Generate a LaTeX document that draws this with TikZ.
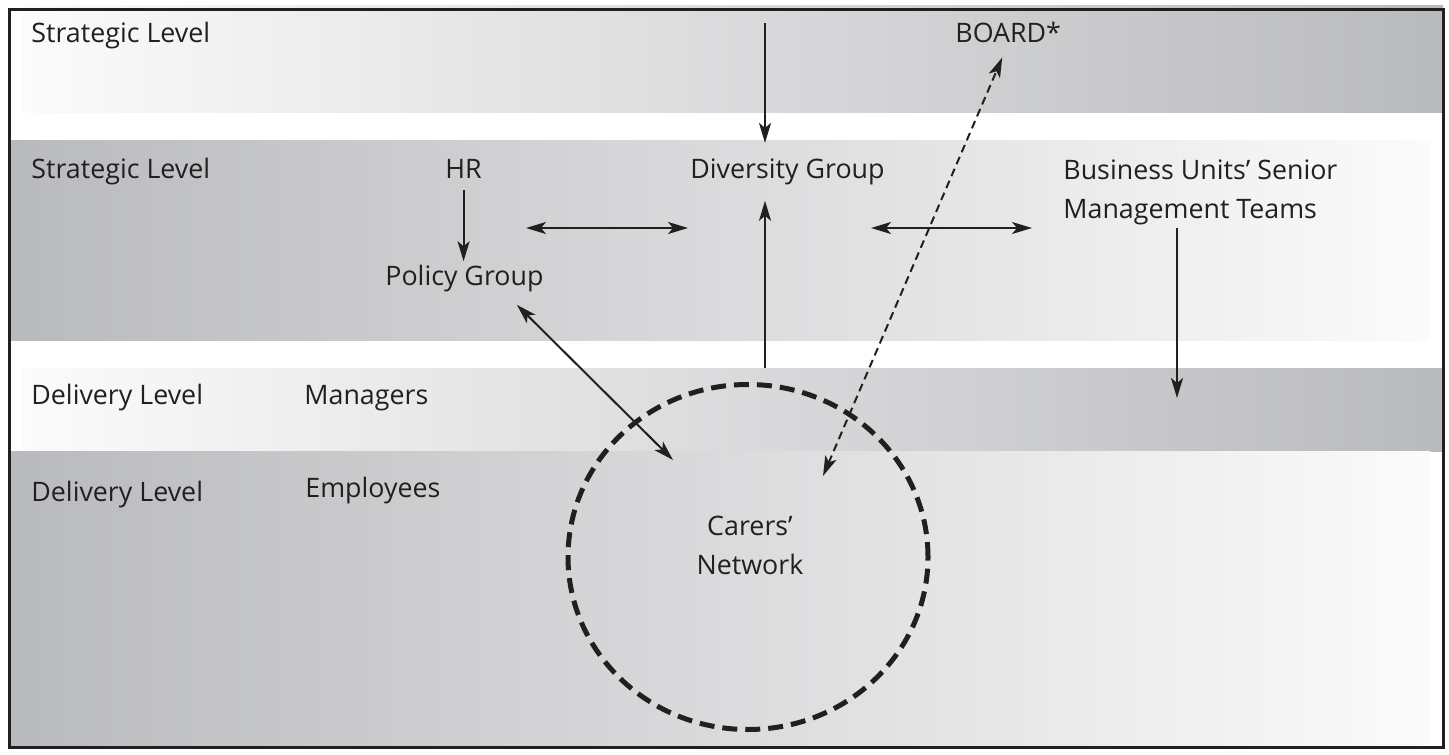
\documentclass[tikz,border=0pt]{standalone}
\usepackage{fontspec}
\setmainfont{Open Sans}
\usetikzlibrary{shapes,arrows.meta,positioning}
\definecolor{ink}{RGB}{35,31,32}
\definecolor{banddark}{RGB}{185,186,189}
\definecolor{bandlight}{RGB}{251,251,251}

\begin{document}
\begin{tikzpicture}[x=0.5pt, y=-0.5pt, >={Stealth[length=10pt, width=6pt, inset=2.5pt]}]
    % Styles
        \tikzstyle{level} = [text=ink, inner sep=0pt, anchor=base west, font=\fontsize{13.4}{19.5}\selectfont]
        \tikzstyle{unit} = [level, align=left]
        \tikzstyle{line} = [draw=ink, line width=1pt, ->]
        \tikzstyle{both} = [line, <->]
        \tikzstyle{report} = [both, dash pattern=on 4pt off 2.5pt]
        \tikzstyle{carers} = [ellipse, draw=ink, line width=2.5pt, dash pattern=on 7.5pt off 4pt, minimum width=180pt, minimum height=172.5pt, inner sep=0pt]
        \useasboundingbox (0,0) rectangle (1449,754);
    % Bands
        \shade [left color=bandlight, right color=banddark] (23,6) rectangle (1443,113);
        \shade [left color=banddark, right color=bandlight] (9,141) rectangle (1430,340);
        \shade [left color=bandlight, right color=banddark] (23,368) rectangle (1443,451);
        \shade [left color=banddark, right color=bandlight] (9,451) rectangle (1430,747);
    % Level column
        \node [level] (strategicTop) at (31,43) {Strategic Level};
        \node [level] (strategicMid) at (31,179) {Strategic Level};
        \node [level] (deliveryMgr) at (31,404) {Delivery Level};
        \node [level] (deliveryEmp) at (31,501) {Delivery Level};
        \node [level] (managers) at (304,404) {Managers};
        \node [level] (employees) at (305,497) {Employees};
    % Groups
        \node [level] (board) at (955,43) {BOARD*};
        \node [level] (hr) at (445,179) {HR};
        \node [level] (diversity) at (690,179) {Diversity Group};
        \node [level] (policy) at (385,285) {Policy Group};
        \node [unit] (business) at (1063,219) {Business Units’ Senior\\Management Teams};
        \node [carers] (network) at (748,557) {};
        \node [unit, align=center, anchor=center] (carersText) at (750,545) {Carers’\\Network};
    % Free ends
        \coordinate (strategicIn) at (765,23);
        \coordinate (managersUp) at (765,368);
        \coordinate (hrLink) at (526,228);
        \coordinate (managersDown) at (1177,398);
        \coordinate [below left = 6.5pt and 13.5pt of policy.south east] (policyLink);
        \coordinate [above left = 48.5pt and 37.5pt of network.center] (networkPolicy);
        \coordinate [above right = 40.5pt and 37.5pt of network.center] (networkBoard);
    % Draw edges
        \path [line, shorten >=8pt] (strategicIn) -- (strategicIn |- diversity.north);
        \path [line, shorten >=7.5pt] (managersUp) -- (managersUp |- diversity.south);
        \path [line, shorten <=5.5pt, shorten >=1.5pt] (hr.south) -- (hr.south |- policy.north);
        \path [both, shorten >=1pt] (hrLink) -- (hrLink -| diversity.west);
        \path [both, shorten >=15.5pt] ([xshift=-7pt]diversity.east |- hrLink) -- (hrLink -| business.west);
        \path [line, shorten <=1pt] (managersDown |- business.south) -- (managersDown);
        \path [both] (policyLink) -- (networkPolicy);
        \path [report, shorten >=7.5pt] (networkBoard) -- (board.south);
    % Frame
        \draw [ink, line width=1.5pt] (9,10) rectangle (1443,747);
\end{tikzpicture}
\end{document}
